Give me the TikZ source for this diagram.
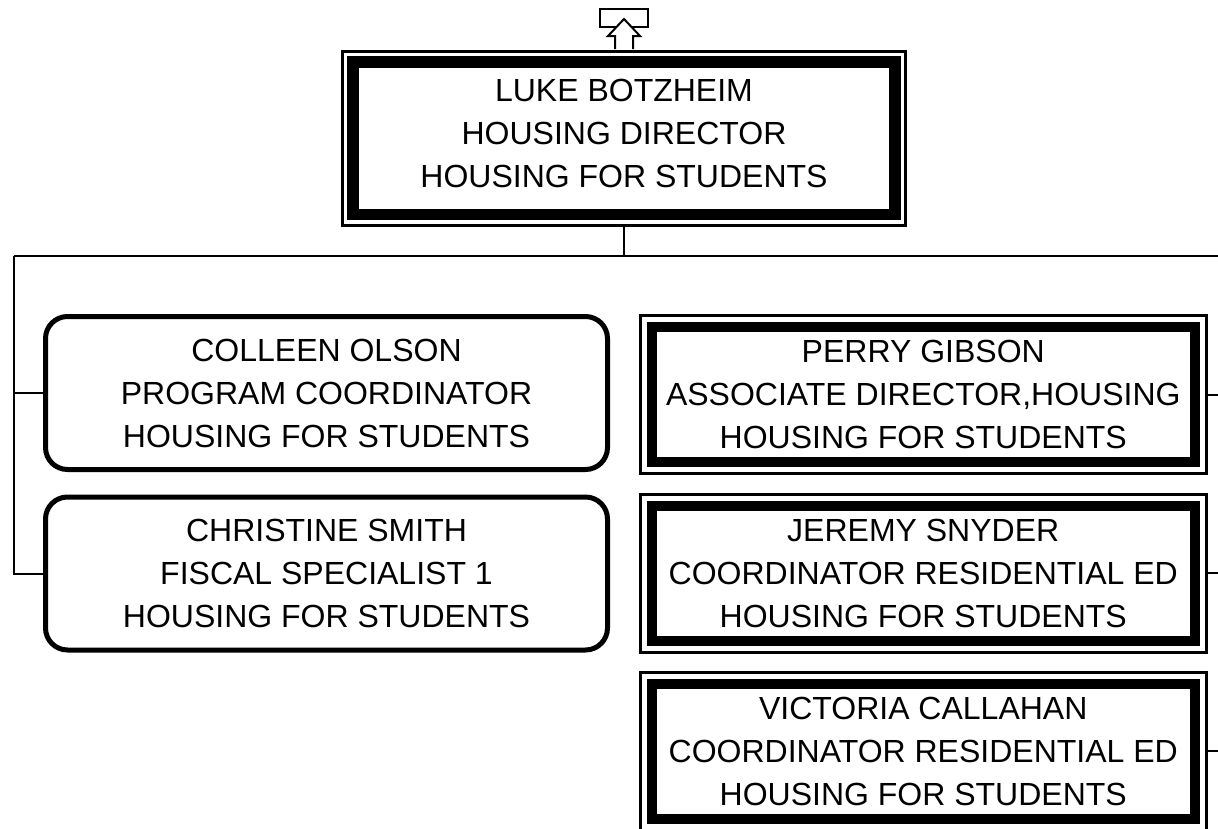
\documentclass[tikz,border=0pt]{standalone}
\usepackage{fontspec}
\setmainfont{Liberation Sans}
\begin{document}
\begin{tikzpicture}[x=1pt,y=-1pt,
  txt/.style={align=center,font=\fontsize{32}{43}\selectfont,inner sep=0pt},
  dblbox/.style={txt,draw,line width=3pt,minimum width=566pt,minimum height=158pt,
    path picture={\draw[line width=10pt]
      ([shift={(11.5pt,-11.5pt)}]path picture bounding box.north west) rectangle
      ([shift={(-11.5pt,11.5pt)}]path picture bounding box.south east);}},
  topbox/.style={txt,draw,line width=3pt,minimum width=563pt,minimum height=173.5pt,
    path picture={\draw[line width=11.5pt]
      ([shift={(10.5pt,-10.5pt)}]path picture bounding box.north west) rectangle
      ([shift={(-10.5pt,10.5pt)}]path picture bounding box.south east);}},
  rbox/.style={txt,draw,line width=5pt,rounded corners=22pt,minimum width=562pt,minimum height=153pt},
  conn/.style={line width=2pt}]
\useasboundingbox[fill=white] (0,0) rectangle (1218,828);

% top icon
\draw[line width=2.5pt] (600,9) rectangle (648,27);
\draw[line width=2pt,fill=white] (615,49) -- (615,36) -- (608,36) -- (624,19) -- (640,36) -- (633,36) -- (633,49);

\node[topbox] (lb) at (624,138.25) {LUKE BOTZHEIM\\HOUSING DIRECTOR\\HOUSING FOR STUDENTS\rule[-10pt]{0pt}{0pt}};

\node[rbox] (co) at (326.5,393) {COLLEEN OLSON\\PROGRAM COORDINATOR\\HOUSING FOR STUDENTS};
\node[rbox] (cs) at (326.5,573.5) {CHRISTINE SMITH\\FISCAL SPECIALIST 1\\HOUSING FOR STUDENTS};

\node[dblbox] (pg) at (923.25,394.5) {PERRY GIBSON\\ASSOCIATE DIRECTOR,HOUSING\\HOUSING FOR STUDENTS};
\node[dblbox] (js) at (923.25,573) {JEREMY SNYDER\\COORDINATOR RESIDENTIAL ED\\HOUSING FOR STUDENTS};
\node[dblbox] (vc) at (923.25,751) {VICTORIA CALLAHAN\\COORDINATOR RESIDENTIAL ED\\HOUSING FOR STUDENTS};

% connectors
\coordinate (bus) at (624,256);
\coordinate (busL) at (14,256);
\coordinate (busR) at (1218,256);
\coordinate (r1) at (1218,394.5);
\coordinate (r2) at (1218,573);
\coordinate (r3) at (1218,751);
\draw[conn] (lb.south) -- (bus);
\draw[conn] (busL) -- (busR);
\draw[conn] (busL) |- (co.west);
\draw[conn] (busL) |- (cs.west);
\draw[conn] (pg.east) -- (r1);
\draw[conn] (js.east) -- (r2);
\draw[conn] (vc.east) -- (r3);
\end{tikzpicture}
\end{document}
